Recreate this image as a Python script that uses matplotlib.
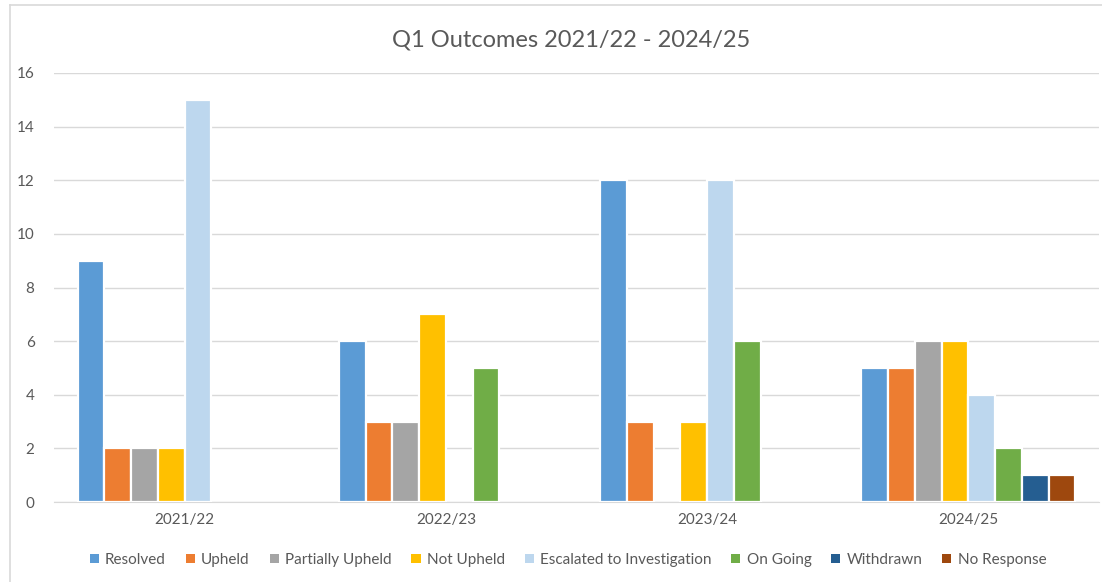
import numpy as np
import matplotlib.pyplot as plt
from matplotlib.lines import Line2D

# Q1 complaint outcomes per year
years = ['2021/22', '2022/23', '2023/24', '2024/25']
outcomes = ['Resolved', 'Upheld', 'Partially Upheld', 'Not Upheld',
            'Escalated to Investigation', 'On Going', 'Withdrawn', 'No Response']
resolved = [9, 6, 12, 5]
upheld = [2, 3, 3, 5]
partially_upheld = [2, 3, 0, 6]
not_upheld = [2, 7, 3, 6]
escalated = [15, 0, 12, 4]
on_going = [0, 5, 6, 2]
withdrawn = [0, 0, 0, 1]
no_response = [0, 0, 0, 1]
series = [resolved, upheld, partially_upheld, not_upheld,
          escalated, on_going, withdrawn, no_response]
colors = ['#5B9BD5', '#ED7D31', '#A5A5A5', '#FFC000',
          '#BDD7EE', '#70AD47', '#255E91', '#9E480E']

plt.rcParams['font.family'] = ['Lato', 'DejaVu Sans']
txt = '#595959'

fig = plt.figure(figsize=(11.02, 5.82), dpi=100)
# chart frame (only top and left edges fall inside the image)
fig.add_artist(Line2D([10 / 1102, 10 / 1102], [0, 1 - 5 / 582],
                      transform=fig.transFigure, color='#D9D9D9', lw=1.2))
fig.add_artist(Line2D([10 / 1102, 1], [1 - 5 / 582, 1 - 5 / 582],
                      transform=fig.transFigure, color='#D9D9D9', lw=1.2))
ax = fig.add_axes([54 / 1102, 1 - 502 / 582, 1045 / 1102, 429 / 582])

x = np.arange(len(years))
slot = 0.82 / len(series)
for i, (vals, c) in enumerate(zip(series, colors)):
    vals = np.array(vals, dtype=float)
    pos = x - 0.41 + slot * (i + 0.5)
    keep = vals > 0
    ax.bar(pos[keep], vals[keep], width=slot, color=c, edgecolor='white',
           linewidth=1.6, zorder=3)
    ax.bar([np.nan], [np.nan], color=c, label=outcomes[i])

ax.set_xlim(-0.5, 3.5)
ax.set_ylim(0, 16)
ax.set_yticks(range(0, 17, 2))
ax.set_xticks(x)
ax.set_xticklabels(years)
ax.grid(axis='y', color='#D9D9D9', linewidth=1, zorder=0)
for s in ['top', 'right', 'left']:
    ax.spines[s].set_visible(False)
ax.spines['bottom'].set_color('#D9D9D9')
ax.tick_params(length=0, colors=txt, labelsize=11)
ax.tick_params(axis='y', pad=14)
ax.tick_params(axis='x', pad=8)

fig.text(571 / 1102, 1 - 40 / 582, 'Q1 Outcomes 2021/22 - 2024/25', ha='center',
         va='center', fontsize=17, color=txt)

fig.legend(loc='center', bbox_to_anchor=(568 / 1102, 1 - 560 / 582), ncol=8,
           frameon=False, fontsize=11, handlelength=0.6, handleheight=0.6,
           handletextpad=0.4, columnspacing=1.3, labelcolor=txt)

fig.savefig('out.png', dpi=100)
